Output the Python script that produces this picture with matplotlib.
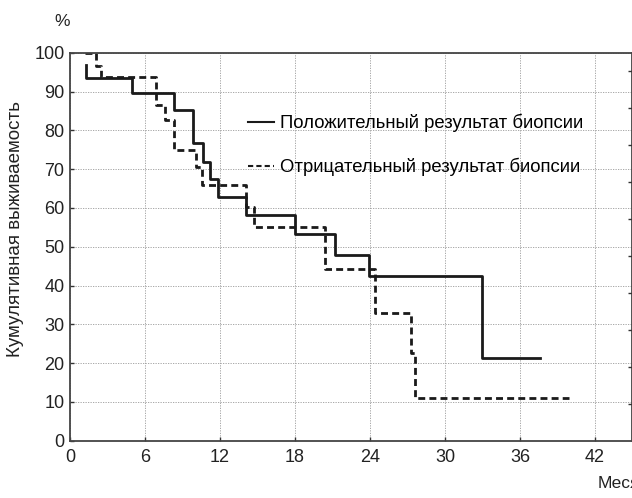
import matplotlib
matplotlib.use("Agg")
import matplotlib.pyplot as plt

plt.rcParams['font.family'] = ['Liberation Sans', 'DejaVu Sans']

# Кривые выживаемости (месяцы, %)
t_pos = [1.3, 1.3, 4.93, 8.35, 9.87, 10.67, 11.2, 11.8, 14.08, 18.0, 21.2, 23.9, 33.0, 37.6]
s_pos = [96.8, 93.6, 89.5, 85.3, 76.6, 71.9, 67.4, 62.9, 58.1, 53.4, 47.9, 42.5, 21.3, 21.3]

t_neg = [1.2, 2.1, 2.5, 6.9, 7.6, 8.3, 10.1, 10.6, 14.1, 14.7, 20.4, 24.4, 27.3, 27.6, 39.9]
s_neg = [100, 96.6, 93.8, 86.5, 82.6, 74.9, 70.5, 65.9, 60.3, 55.2, 44.3, 33.0, 22.5, 11.1, 11.1]

lbl_pos = "Положительный результат биопсии"
lbl_neg = "Отрицательный результат биопсии"

x_ticks = [0, 6, 12, 18, 24, 30, 36, 42]
y_ticks = [0, 10, 20, 30, 40, 50, 60, 70, 80, 90, 100]

fig = plt.figure(figsize=(6.32, 4.98), dpi=100)
ax = fig.add_axes([70 / 632, 57.3 / 498, 562.5 / 632, 388 / 498])

ax.step(t_pos, s_pos, where="post", color="#1a1a1a", lw=2.0, label=lbl_pos)
ax.step(t_neg, s_neg, where="post", color="#1a1a1a", lw=2.0,
        dashes=(2.5, 1.5), label=lbl_neg)

ax.set_xlim(0, 45)
ax.set_ylim(0, 100)
ax.set_xticks(x_ticks)
ax.set_yticks(y_ticks)
ax.grid(True, color="#9a9a9a", linestyle=(0, (1.5, 1.5)), linewidth=0.6)
ax.tick_params(direction="in", length=3, width=1, colors="#333333",
               labelsize=13, labelcolor="#222222")
ax.tick_params(axis="x", pad=6)
ax.tick_params(axis="y", pad=4)
for side in ["left", "bottom", "top", "right"]:
    ax.spines[side].set_color("#444444")
    ax.spines[side].set_linewidth(1.3)

# правая шкала — только засечки
ax2 = ax.twinx()
ax2.set_ylim(0, 105)
ax2.set_yticks(y_ticks[1:])
ax2.tick_params(direction="in", length=3, width=1, colors="#333333",
                labelright=False)
for side in ax2.spines:
    ax2.spines[side].set_visible(False)

ax.set_ylabel("Кумулятивная выживаемость", fontsize=13.5, color="#222222")
ax.yaxis.set_label_coords(-0.082, 0.545)
fig.text(62.5 / 632, 1 - 21 / 498, "%", fontsize=12.5, color="#222222",
         ha="center", va="center")
fig.text(598 / 632, 1 - 483 / 498, "Месяцы", fontsize=12.5, color="#222222",
         ha="left", va="center")

leg = ax.legend(loc="upper left", bbox_to_anchor=(248 / 632, 1 - 114 / 498),
                bbox_transform=fig.transFigure, frameon=False, fontsize=13.3,
                borderpad=0, borderaxespad=0, handlelength=1.4,
                handletextpad=0.35, labelspacing=1.4)
for line in leg.get_lines():
    line.set_linewidth(1.5)

fig.savefig("out.png", dpi=100)
